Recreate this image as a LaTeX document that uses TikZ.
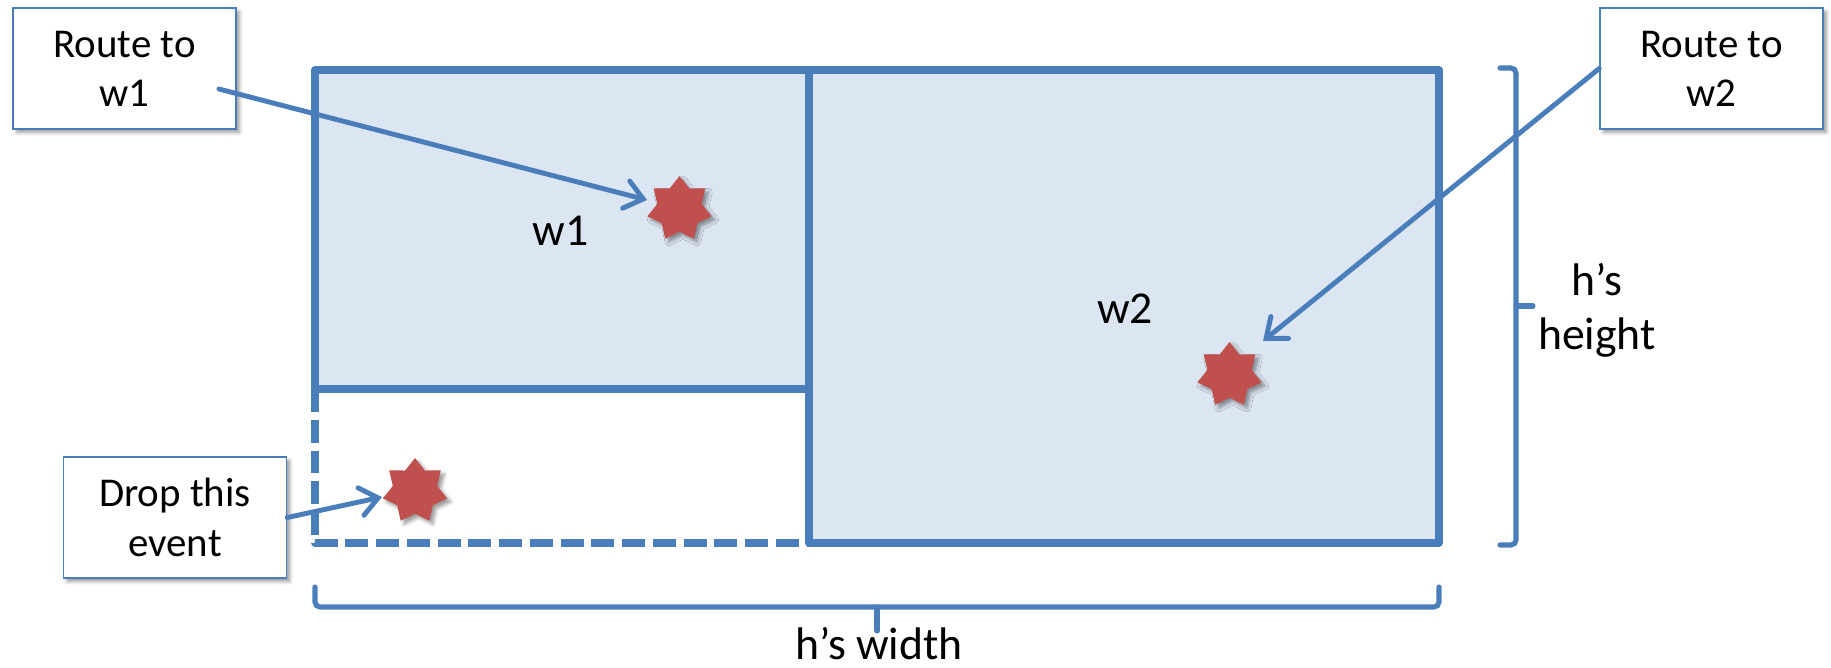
\documentclass[tikz,border=0pt]{standalone}
\usepackage{fontspec}
\setmainfont{Carlito}
\usetikzlibrary{shapes.geometric,arrows.meta,shadows.blur}
\definecolor{edgeblue}{RGB}{74,126,187}
\definecolor{paneblue}{RGB}{220,230,242}
\definecolor{eventred}{RGB}{192,80,77}

\begin{document}
\begin{tikzpicture}[x=0.02cm,y=-0.02cm,
  pane/.style={draw=edgeblue, fill=paneblue, line width=4.3pt, line join=round},
  gapline/.style={draw=edgeblue, line width=4.3pt, dash pattern=on 13pt off 4.5pt, line join=round},
  brace/.style={draw=edgeblue, line width=2.9pt, rounded corners=0.1cm, line cap=round},
  softshadow/.style={blur shadow={shadow xshift=0.07cm, shadow yshift=-0.07cm, shadow blur radius=0.07cm, shadow opacity=40}},
  callout/.style={draw=edgeblue, fill=white, line width=0.9pt, minimum width=4.46cm,
    minimum height=2.42cm, align=center, inner sep=0pt,
    font=\fontsize{23.3}{28}\selectfont, softshadow},
  event/.style={star, star points=7, star point ratio=1.45, minimum size=1.32cm,
    inner sep=0pt, fill=eventred, softshadow},
  pointer/.style={draw=edgeblue, line width=2.8pt, line cap=round,
    -{Straight Barb[length=10pt,width=16pt,line cap=round]}},
  caption/.style={font=\fontsize{26}{30.7}\selectfont, align=center, inner sep=0pt}
]
\useasboundingbox (0,0) rectangle (1831,667);

% the two worker panes and the uncovered strip of h
\draw[pane] (315,70) rectangle (809,389);
\draw[pane] (809,70) rectangle (1439,543);
\draw[gapline] (315,389) -- (315,543) -- (809,543);

% dimension brackets
\draw[brace] (1500,68) -- (1516,68) -- (1516,545) -- (1500,545);
\draw[brace] (1516,306) -- (1533,306);
\draw[brace] (315,587) -- (315,607) -- (1439,607) -- (1439,587);
\draw[brace] (877,607) -- (877,631);

% labels
\node[caption, anchor=base] (lw1) at (560.5,245) {w1};
\node[caption, anchor=base] (lw2) at (1125,323) {w2};
\node[caption] (lh) at (1597,310) {h’s\\height};
\node[caption, anchor=base] (lwd) at (879,659) {h’s width};

% events
\node[event] (s1) at (679.5,209) {};
\node[event] (s2) at (1229.5,375) {};
\node[event] (s3) at (415,491) {};

% callouts
\node[callout] (r1) at (124.5,68.5) {Route to\\w1};
\node[callout] (r2) at (1711.5,68.5) {Route to\\w2};
\node[callout] (drop) at (175,517.5) {Drop this\\event};

% pointers
\coordinate (o1) at (219,89);
\coordinate (t1) at (647,200);
\coordinate (t2) at (1263,341);
\coordinate (t3) at (382,497);
\draw[pointer] (o1) -- (t1);
\draw[pointer] (r2.west) -- (t2);
\draw[pointer] (drop.east) -- (t3);
\end{tikzpicture}
\end{document}
